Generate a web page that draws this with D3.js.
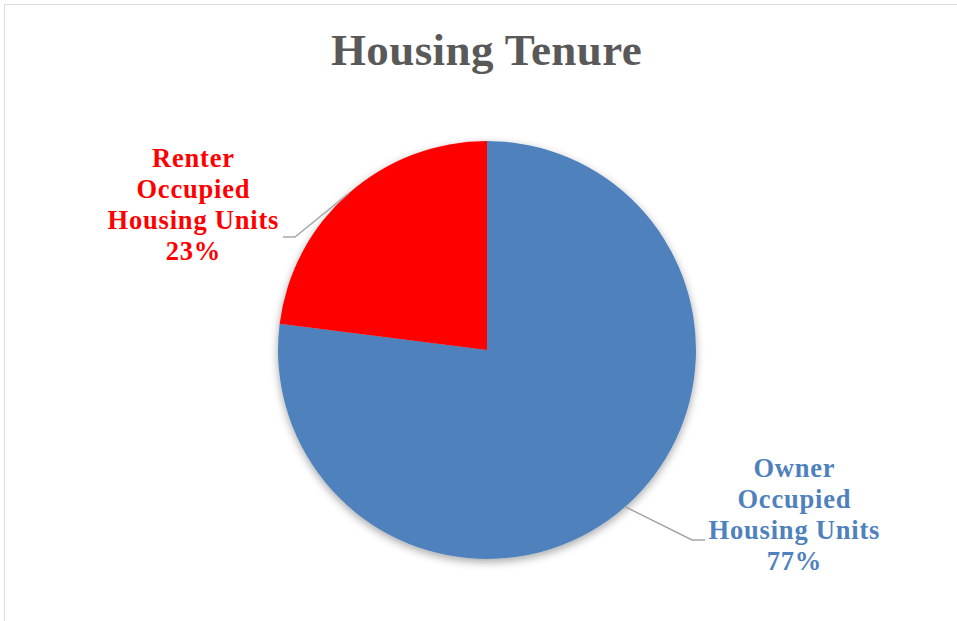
<!DOCTYPE html>
<html>
<head>
<meta charset="utf-8">
<script src="https://cdn.jsdelivr.net/npm/d3@7"></script>
<style>
  html, body { margin: 0; padding: 0; background: #fff; }
  svg { display: block; }
</style>
</head>
<body>
<div id="chart"></div>
<script>
// ------------------------------ DATA ------------------------------
var categories = ["Owner Occupied Housing Units", "Renter Occupied Housing Units"],
    labelLines = [["Owner", "Occupied", "Housing Units"], ["Renter", "Occupied", "Housing Units"]],
    shares = [77, 23],
    sliceColors = ["#4F81BD", "#FF0000"];

// ------------------------------ LAYOUT ------------------------------
var width = 957,
    height = 621,
    cx = 487,
    cy = 350,
    radius = 209,
    fontFamily = "'Liberation Serif', 'Times New Roman', serif",
    lineHeight = 31;

// label block placement: centre x, first baseline, leader elbow and end
var labelLayout = [
    {x: 794, y: 477, elbow: [692, 540], end: [705, 540]},
    {x: 193, y: 167, elbow: [295, 237], end: [283, 237]}
];

var svg = d3.select("#chart")
    .append("svg")
    .attr("width", width)
    .attr("height", height);

var defs = svg.append("defs");
var shadow = defs.append("filter")
    .attr("id", "shadow")
    .attr("x", "-10%").attr("y", "-10%")
    .attr("width", "120%").attr("height", "120%");
shadow.append("feDropShadow")
    .attr("dx", 0)
    .attr("dy", 3)
    .attr("stdDeviation", 4)
    .attr("flood-color", "#000")
    .attr("flood-opacity", 0.35);

// chart area border
svg.append("rect")
    .attr("x", 4.5)
    .attr("y", 4.5)
    .attr("width", 1200)
    .attr("height", 1200)
    .attr("fill", "none")
    .attr("stroke", "#D9D9D9")
    .attr("stroke-width", 1);

// title
svg.append("text")
    .attr("x", 486.5)
    .attr("y", 65)
    .attr("text-anchor", "middle")
    .attr("font-family", fontFamily)
    .attr("font-weight", "bold")
    .attr("font-size", "45px")
    .attr("letter-spacing", "0.4px")
    .attr("fill", "#595959")
    .text("Housing Tenure");

// ------------------------------ PIE ------------------------------
var pie = d3.pie().sort(null).value(function (d) { return d; });
var arcs = pie(shares);

var arc = d3.arc().innerRadius(0).outerRadius(radius);

var g = svg.append("g")
    .attr("transform", "translate(" + cx + "," + cy + ")");

g.append("g")
    .attr("filter", "url(#shadow)")
    .selectAll("path")
    .data(arcs)
    .enter()
    .append("path")
    .attr("d", arc)
    .attr("fill", function (d, i) { return sliceColors[i]; });

// leader lines
arcs.forEach(function (d, i) {
    var mid = (d.startAngle + d.endAngle) / 2,
        sx = cx + radius * Math.sin(mid),
        sy = cy - radius * Math.cos(mid),
        lay = labelLayout[i];
    svg.append("polyline")
        .attr("points", [[sx, sy], lay.elbow, lay.end].map(function (p) { return p.join(","); }).join(" "))
        .attr("fill", "none")
        .attr("stroke", "#A6A6A6")
        .attr("stroke-width", 1.5);
});

// labels
arcs.forEach(function (d, i) {
    var lay = labelLayout[i],
        lines = labelLines[i].concat([Math.round(d.data) + "%"]);
    var t = svg.append("text")
        .attr("text-anchor", "middle")
        .attr("font-family", fontFamily)
        .attr("font-weight", "bold")
        .attr("font-size", "26.5px")
        .attr("letter-spacing", "0.8px")
        .attr("fill", sliceColors[i]);
    lines.forEach(function (line, j) {
        t.append("tspan")
            .attr("x", lay.x + 0.4)
            .attr("y", lay.y + j * lineHeight)
            .text(line);
    });
});
</script>
</body>
</html>
